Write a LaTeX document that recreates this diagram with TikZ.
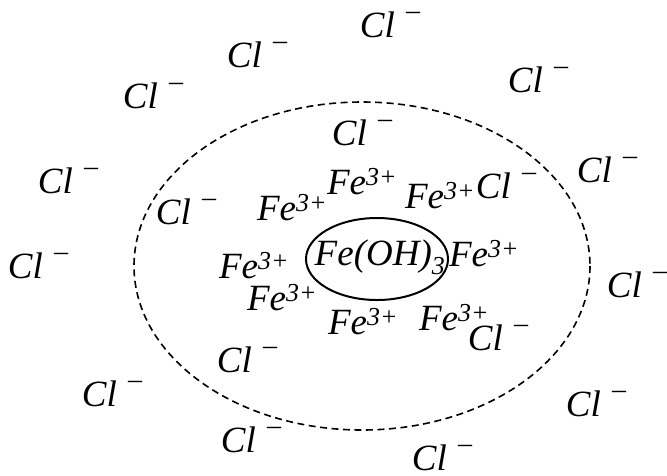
\documentclass[tikz,border=0pt]{standalone}
\usepackage{fontspec}
\setmainfont{Liberation Serif}
\begin{document}
\begin{tikzpicture}[x=1pt,y=-1pt,
  ion/.style={inner sep=0pt,font=\fontsize{37}{40}\selectfont\itshape},
  shell/.style={draw,line width=1.6pt,dash pattern=on 7pt off 4.5pt},
  core/.style={draw,line width=2pt}]
\useasboundingbox (0,0) rectangle (667,475);
\newcommand\clion{Cl\hspace{0.3em}\raisebox{0.48em}{\fontsize{28}{28}\selectfont\upshape\textendash}}
\newcommand\feion{Fe\textsuperscript{3+}}
% dashed shell
\draw[shell] (362,266) ellipse [x radius=228,y radius=164];
% core
\node[ion] (core) at (380,257) {Fe(OH)\textsubscript{3}};
\draw[core] (377,259) ellipse [x radius=71,y radius=41];
% Fe ions
\node[ion] (f1) at (362,182) {\feion};
\node[ion] (f2) at (292,208) {\feion};
\node[ion] (f3) at (440,196) {\feion};
\node[ion] (f4) at (254,266) {\feion};
\node[ion] (f5) at (484,254) {\feion};
\node[ion] (f6) at (282,298) {\feion};
\node[ion] (f7) at (363,322) {\feion};
\node[ion] (f8) at (454,318) {\feion};
% Cl ions
\node[ion] (c1) at (390,25) {\clion};
\node[ion] (c2) at (257,55) {\clion};
\node[ion] (c3) at (153,96) {\clion};
\node[ion] (c4) at (538,80) {\clion};
\node[ion] (c5) at (362,133) {\clion};
\node[ion] (c6) at (68,181) {\clion};
\node[ion] (c7) at (186,212) {\clion};
\node[ion] (c8) at (506,186) {\clion};
\node[ion] (c9) at (607,170) {\clion};
\node[ion] (c10) at (38,266) {\clion};
\node[ion] (c11) at (637,285) {\clion};
\node[ion] (c12) at (498,338) {\clion};
\node[ion] (c13) at (247,360) {\clion};
\node[ion] (c14) at (112,394) {\clion};
\node[ion] (c15) at (596,404) {\clion};
\node[ion] (c16) at (251,440) {\clion};
\node[ion] (c17) at (442,458) {\clion};
\end{tikzpicture}
\end{document}
